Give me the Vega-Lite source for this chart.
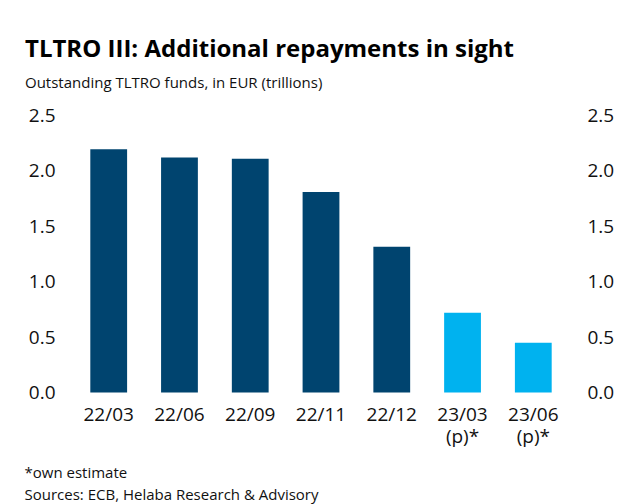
{
  "$schema": "https://vega.github.io/schema/vega-lite/v6.json",
  "width": 518,
  "height": 277,
  "autosize": {"type": "none"},
  "padding": {"left": 62, "top": 115.5, "right": 40, "bottom": 111.5},
  "background": "white",
  "title": {
    "text": "TLTRO III: Additional repayments in sight",
    "subtitle": "Outstanding TLTRO funds, in EUR (trillions)",
    "anchor": "start",
    "frame": "group",
    "dx": -37,
    "offset": 16,
    "font": "Open Sans",
    "fontSize": 24,
    "fontWeight": "bold",
    "color": "#000000",
    "subtitleFont": "Open Sans",
    "subtitleFontSize": 15,
    "subtitleColor": "#111111",
    "subtitlePadding": 14
  },
  "data": {
    "values": [
      {"period": "22/03", "value": 2.195, "type": "actual"},
      {"period": "22/06", "value": 2.12, "type": "actual"},
      {"period": "22/09", "value": 2.11, "type": "actual"},
      {"period": "22/11", "value": 1.81, "type": "actual"},
      {"period": "22/12", "value": 1.316, "type": "actual"},
      {"period": "23/03 (p)*", "value": 0.72, "type": "estimate"},
      {"period": "23/06 (p)*", "value": 0.45, "type": "estimate"}
    ]
  },
  "encoding": {
    "x": {
      "field": "period",
      "type": "nominal",
      "sort": null,
      "scale": {"paddingInner": 0.48, "paddingOuter": 0.4},
      "axis": {
        "title": ["*own estimate", "Sources: ECB, Helaba Research & Advisory"],
        "titleX": -38,
        "titleY": 85,
        "titleAlign": "left",
        "titleAnchor": "start",
        "titleBaseline": "alphabetic",
        "titleFont": "Open Sans",
        "titleFontSize": 15,
        "titleFontWeight": "normal",
        "titleColor": "#111111",
        "titleLineHeight": 22,
        "labelAngle": 0,
        "labelExpr": "split(datum.label, ' ')",
        "labelFont": "Open Sans",
        "labelFontSize": 19,
        "labelColor": "#111111",
        "labelLineHeight": 22,
        "labelPadding": 13,
        "ticks": false,
        "domain": false,
        "grid": false
      }
    },
    "y": {
      "field": "value",
      "type": "quantitative",
      "scale": {"domain": [0, 2.5], "nice": false}
    }
  },
  "layer": [
    {
      "mark": {"type": "bar"},
      "encoding": {
        "color": {
          "field": "type",
          "type": "nominal",
          "scale": {"domain": ["actual", "estimate"], "range": ["#00446f", "#00b2ef"]},
          "legend": null
        },
        "y": {
          "field": "value",
          "type": "quantitative",
          "axis": {
            "orient": "left",
            "title": null,
            "values": [0, 0.5, 1, 1.5, 2, 2.5],
            "format": ".1f",
            "labelFont": "Open Sans",
            "labelFontSize": 19,
            "labelColor": "#111111",
            "labelPadding": 7,
            "ticks": false,
            "domain": false,
            "grid": false
          }
        }
      }
    },
    {
      "mark": {"type": "bar", "opacity": 0},
      "encoding": {
        "y": {
          "field": "value",
          "type": "quantitative",
          "axis": {
            "orient": "right",
            "title": null,
            "values": [0, 0.5, 1, 1.5, 2, 2.5],
            "format": ".1f",
            "labelFont": "Open Sans",
            "labelFontSize": 19,
            "labelColor": "#111111",
            "labelPadding": 7,
            "ticks": false,
            "domain": false,
            "grid": false
          }
        }
      }
    }
  ],
  "resolve": {"axis": {"y": "independent"}},
  "config": {
    "view": {"stroke": null},
    "axis": {"labelOverlap": false}
  }
}
